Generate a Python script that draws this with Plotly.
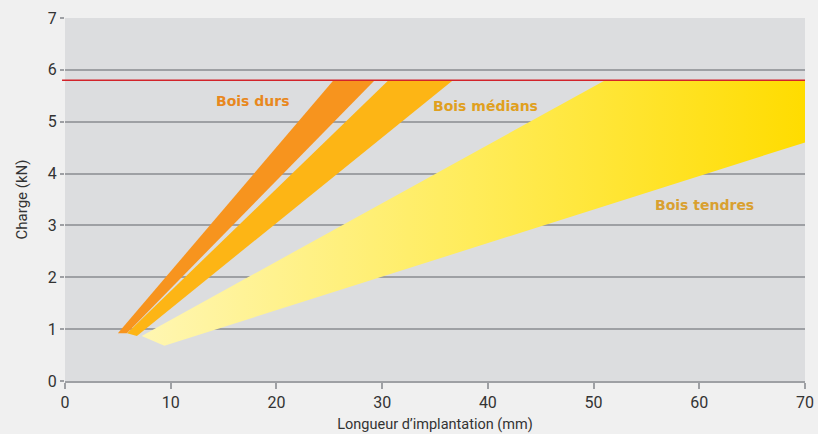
import plotly.graph_objects as go

# Data
durs_x = [5.0, 5.85, 29.3, 25.4, 5.0]
durs_y = [0.92, 0.92, 5.8, 5.8, 0.92]
medians_x = [5.87, 6.8, 36.7, 30.6, 5.87]
medians_y = [0.92, 0.87, 5.8, 5.8, 0.92]
tendres_x = [7.25, 9.4, 70.0, 70.0, 51.1, 7.25]
tendres_y = [0.87, 0.68, 4.6, 5.8, 5.8, 0.87]
limit_y = 5.8
label_text = ["Bois durs", "Bois médians", "Bois tendres"]
label_x = [17.8, 39.8, 60.5]
label_y = [5.4, 5.31, 3.4]
label_colors = ["#E8881E", "#E0A01E", "#D9A030"]
x_ticks = [0, 10, 20, 30, 40, 50, 60, 70]
y_ticks = [0, 1, 2, 3, 4, 5, 6, 7]

fig = go.Figure()
fig.add_trace(go.Scatter(
    x=tendres_x, y=tendres_y, mode="lines", fill="toself",
    line=dict(width=0),
    fillgradient=dict(type="horizontal",
                      colorscale=[[0, "rgb(255,246,178)"], [0.5, "rgb(255,236,90)"], [1, "rgb(255,220,0)"]]),
    hoverinfo="skip", showlegend=False))
fig.add_trace(go.Scatter(
    x=durs_x, y=durs_y, mode="lines", fill="toself",
    line=dict(width=0), fillcolor="#F7941E",
    hoverinfo="skip", showlegend=False))
fig.add_trace(go.Scatter(
    x=medians_x, y=medians_y, mode="lines", fill="toself",
    line=dict(width=0), fillcolor="#FDB515",
    hoverinfo="skip", showlegend=False))

fig.add_shape(type="line", xref="paper", yref="y", x0=-0.004, x1=1, y0=limit_y, y1=limit_y,
              line=dict(color="#D2232A", width=1.5), layer="above")

for t, x, y, c in zip(label_text, label_x, label_y, label_colors):
    fig.add_annotation(x=x, y=y, text="<b>" + t + "</b>", showarrow=False,
                       font=dict(family="DejaVu Sans", size=14, color=c))

fig.update_layout(
    width=818, height=434,
    margin=dict(l=65, r=13, t=18, b=53, autoexpand=False),
    paper_bgcolor="rgb(240,240,240)",
    plot_bgcolor="rgb(220,221,223)",
    font=dict(family="Roboto, DejaVu Sans", color="#333333"),
    xaxis=dict(range=[0, 70], tickvals=x_ticks, showgrid=False, zeroline=False,
               showline=True, linecolor="#9EA0A4", linewidth=2,
               ticks="outside", ticklen=6, tickwidth=2, tickcolor="#9EA0A4",
               tickfont=dict(size=16, color="#333333"), automargin=False,
               title=dict(text="Longueur d’implantation (mm)", font=dict(size=14.5), standoff=8)),
    yaxis=dict(range=[0, 7], tickvals=y_ticks, showgrid=True, gridcolor="#9EA0A4", gridwidth=2,
               zeroline=False, ticks="outside", ticklen=4, tickwidth=2, tickcolor="#9EA0A4",
               tickfont=dict(size=16, color="#333333"), automargin=False,
               title=dict(text="Charge (kN)", font=dict(size=15), standoff=16)),
)

fig.write_html("out.html", config={"displayModeBar": False},
               post_script="document.body.style.margin='0';document.body.style.background='rgb(240,240,240)';")
